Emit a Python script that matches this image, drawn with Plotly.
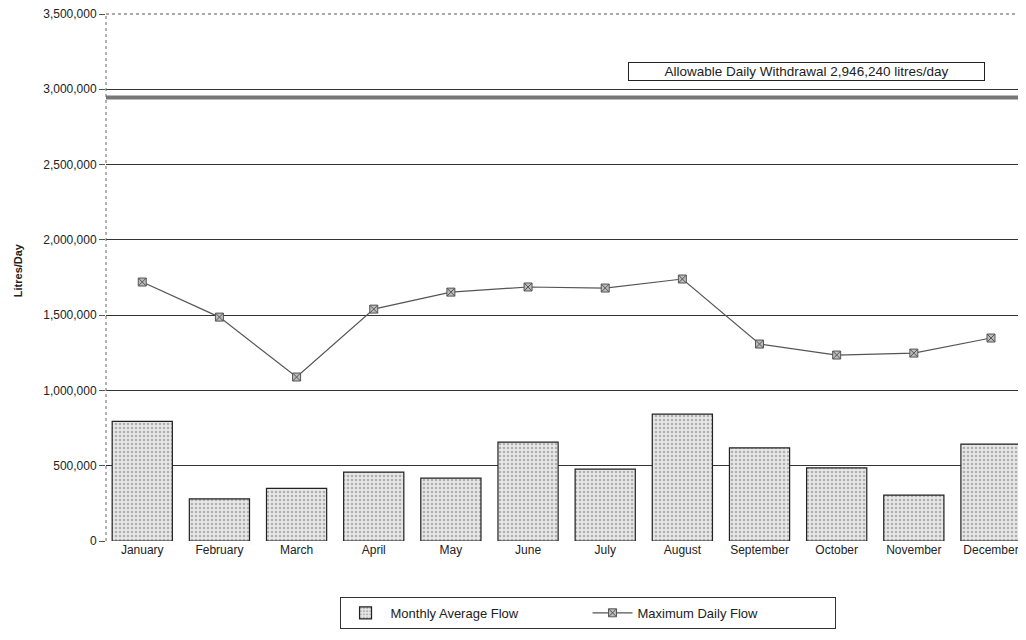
import plotly.graph_objects as go

months = ["January", "February", "March", "April", "May", "June", "July",
          "August", "September", "October", "November", "December"]
monthly_avg = [795000, 280000, 350000, 458000, 418000, 657000, 478000,
               843000, 618000, 485000, 305000, 644000]
max_daily = [1720000, 1487000, 1089000, 1540000, 1653000, 1687000, 1680000,
             1740000, 1308000, 1235000, 1248000, 1348000]
allowable = 2946240
allowable_label = "Allowable Daily Withdrawal 2,946,240 litres/day"
y_ticks = [0, 500000, 1000000, 1500000, 2000000, 2500000, 3000000, 3500000]

fig = go.Figure()
fig.add_trace(go.Bar(
    x=months, y=monthly_avg, name="Monthly Average Flow",
    marker=dict(color="#d6d6d6", line=dict(color="#222", width=1.2),
                pattern=dict(shape=".", fgcolor="#777", bgcolor="#e8e8e8",
                             size=4, solidity=0.35)),
))
fig.add_trace(go.Scatter(
    x=months, y=max_daily, name="Maximum Daily Flow", mode="lines+markers",
    line=dict(color="#555", width=1.2),
    marker=dict(symbol="square-x", size=8, color="#bbb",
                line=dict(color="#555", width=1)),
))

fig.add_shape(type="line", xref="paper", x0=0, x1=1, yref="y",
              y0=allowable, y1=allowable,
              line=dict(color="#777", width=4))
fig.add_shape(type="line", xref="paper", x0=0, x1=0, yref="paper",
              y0=0, y1=1, line=dict(color="#666", width=1, dash="dot"))
fig.add_shape(type="line", xref="paper", x0=0, x1=1, yref="paper",
              y0=1, y1=1, line=dict(color="#555", width=1, dash="dot"))
fig.add_annotation(xref="paper", x=0.964, yref="y", y=3121000,
                   text=allowable_label, showarrow=False, xanchor="right",
                   width=353, height=15, align="center",
                   font=dict(size=13.5, color="#222"),
                   bordercolor="#222", borderwidth=1, borderpad=1,
                   bgcolor="white")
fig.add_annotation(xref="paper", x=-0.105, yref="y", y=1800000,
                   text="<b>Litres/Day</b>", showarrow=False, textangle=-90,
                   font=dict(size=11, color="#222"))

fig.update_layout(
    width=1010, height=624,
    margin=dict(l=98, r=0, t=6, b=91, autoexpand=False),
    paper_bgcolor="white", plot_bgcolor="white",
    font=dict(family="Liberation Sans, Arial", size=12, color="#222"),
    bargap=0.22,
    showlegend=True,
    legend=dict(orientation="h", x=0.528, xanchor="center", y=-0.106,
                yanchor="top", bordercolor="#333", borderwidth=1,
                font=dict(size=13), entrywidth=192, tracegroupgap=0,
                itemwidth=40),
    xaxis=dict(showgrid=False, showline=False, ticks="",
               range=[-0.47, 11.35], autorange=False,
               tickfont=dict(size=12), automargin=False),
    yaxis=dict(range=[0, 3500000], tickvals=y_ticks,
               ticktext=[f"{v:,}" for v in y_ticks],
               showgrid=True, gridcolor="#333", gridwidth=1,
               showline=False, ticks="outside", ticklen=6, tickcolor="#555",
               zeroline=False, automargin=False, ticklabeloverflow="allow",
               tickfont=dict(size=12)),
)

fig.write_html("out.html")
